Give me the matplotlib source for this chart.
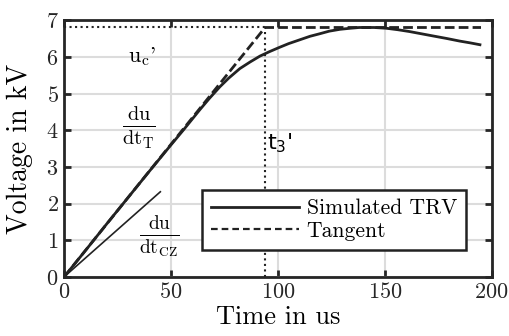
import numpy as np
import matplotlib
matplotlib.use('Agg')
from matplotlib import pyplot as plt
from matplotlib.lines import Line2D

plt.rcParams['font.family'] = ['cmr10']
plt.rcParams['mathtext.fontset'] = 'cm'
plt.rcParams['axes.formatter.use_mathtext'] = True

# simulated TRV
t_trv = [0, 10, 20, 30, 40, 50, 56, 63.5, 68, 72.8, 77, 82.2, 87, 91.6, 96, 100.8,
         105, 110, 115, 119.6, 124, 129, 134, 138, 142, 145, 150.6, 156, 161.5,
         167, 172.5, 179, 185, 190, 194.5]
v_trv = [0, 0.72, 1.45, 2.17, 2.89, 3.6, 4.02, 4.56, 4.87, 5.18, 5.42, 5.68, 5.86,
         6.02, 6.14, 6.26, 6.36, 6.46, 6.56, 6.63, 6.7, 6.75, 6.78, 6.8, 6.8,
         6.8, 6.78, 6.74, 6.69, 6.63, 6.57, 6.5, 6.43, 6.38, 6.33]

# tangent and marks
t_tan = [0, 94, 195]
v_tan = [0, 6.8, 6.8]
t3 = 94
uc = 6.8
t_cz = [0, 45]
v_cz = [0, 2.32]

fig = plt.figure(figsize=(5.09, 3.36), dpi=100)
ax = fig.add_axes([0.126, 0.176, 0.84, 0.764])

ax.plot(t_trv, v_trv, color='#222222', lw=2)
ax.plot(t_tan, v_tan, color='#222222', lw=2, ls=(0, (3.5, 1.5)))
ax.plot([0, t3], [uc, uc], color='#222222', lw=1.5, ls=':')
ax.plot([t3, t3], [0, uc], color='#222222', lw=1.5, ls=':')
ax.plot(t_cz, v_cz, color='#222222', lw=1.2)

# annotations
ax.text(30, 6.0, "$\\mathrm{u_c}$'", fontsize=16, ha='left', va='center')
ax.text(27.3, 4.07, r'$\mathrm{\frac{du}{dt_T}}$', fontsize=21, ha='left', va='center')
ax.text(35, 1.12, r'$\mathrm{\frac{du}{dt_{CZ}}}$', fontsize=20, ha='left', va='center')
ax.text(95, 3.65, "t$_3$'", fontsize=16, ha='left', va='center',
        family='DejaVu Sans', math_fontfamily='dejavusans')

ax.set_xlim(0, 200)
ax.set_ylim(0, 7)
ax.set_xticks([0, 50, 100, 150, 200])
ax.set_yticks(range(8))
ax.grid(True, color='#dcdcdc', lw=1.5)
ax.set_axisbelow(True)
ax.tick_params(direction='in', length=5, width=2, top=True, right=True,
               labelsize=16, colors='#262626', pad=4)
for s in ax.spines.values():
    s.set_linewidth(2)
    s.set_color('#262626')
ax.set_xlabel('Time in us', fontsize=19, labelpad=2)
ax.set_ylabel('Voltage in kV', fontsize=20, labelpad=9)

handles = [Line2D([], [], color='#222222', lw=2),
           Line2D([], [], color='#222222', lw=1.6, ls=(0, (3, 1.8)))]
leg = ax.legend(handles, ['Simulated TRV', 'Tangent'], loc='lower right',
                bbox_to_anchor=(0.94, 0.104), borderaxespad=0,
                fontsize=15.6, handlelength=4.05, handletextpad=0.37, fancybox=False,
                framealpha=1, edgecolor='#222222', borderpad=0.42, labelspacing=0.15)
leg.get_frame().set_linewidth(1.8)

fig.savefig('out.png', dpi=100)
